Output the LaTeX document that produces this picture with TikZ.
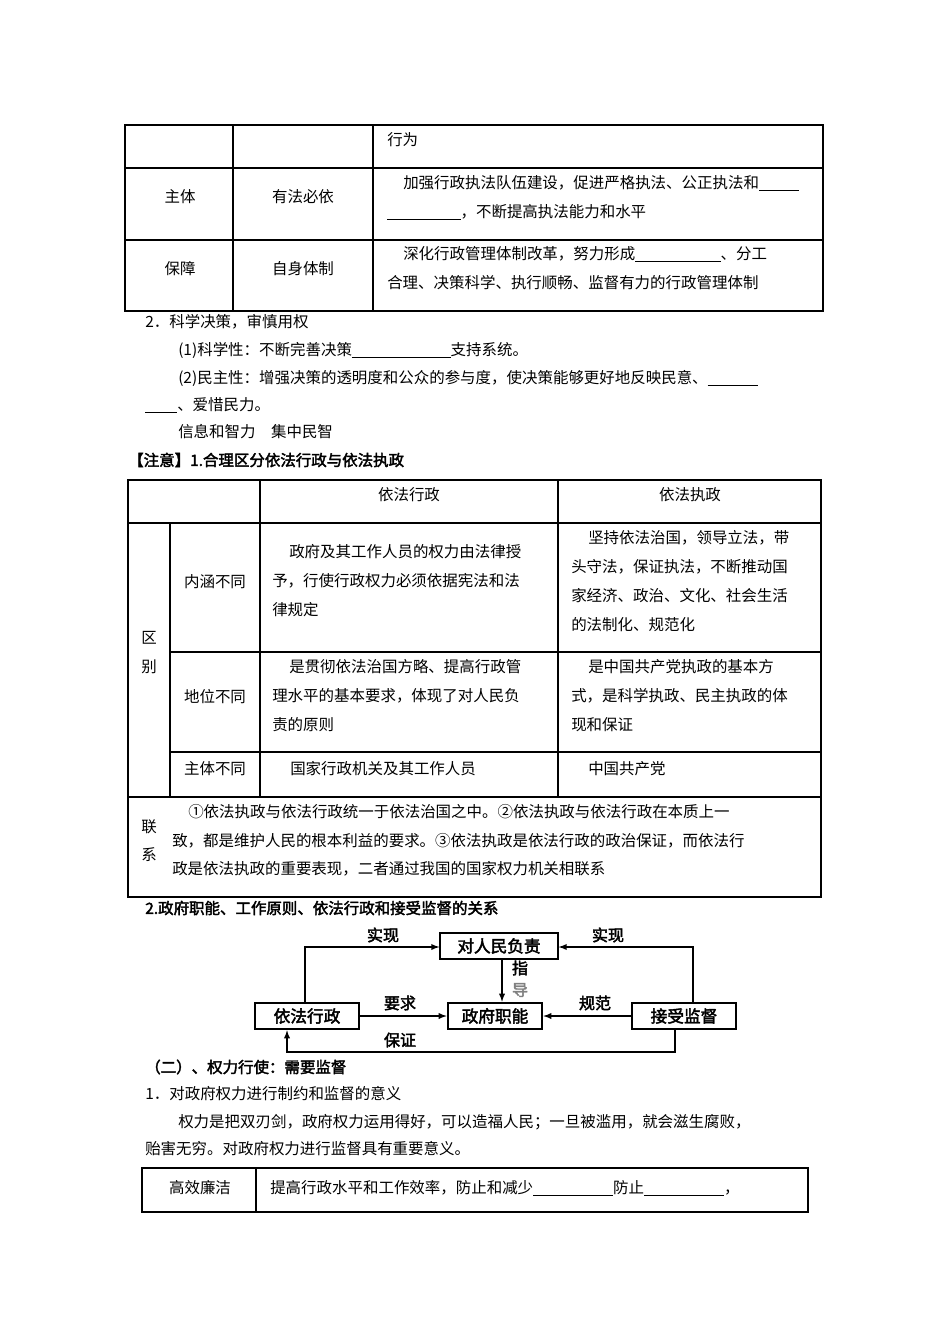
\documentclass[tikz,border=0pt]{standalone}
\usepackage{fontspec}
\setmainfont{Noto Sans CJK SC}[AutoFakeBold=2.5]
\newcommand{\bl}[1]{\rule[-2pt]{#1pt}{0.5pt}}
\begin{document}
\begin{tikzpicture}[x=0.75pt,y=-0.75pt,font=\fontsize{11.6pt}{13pt}\selectfont,
 tx/.style={anchor=west,inner sep=0pt},
 cc/.style={inner sep=0pt},
 bx/.style={draw,line width=1.4pt,minimum height=20pt,inner sep=2pt,font=\fontsize{12.5pt}{13pt}\selectfont\bfseries},
 ln/.style={line width=1.1pt},
 ar/.style={ln,-latex},
 lb/.style={inner sep=0pt,font=\fontsize{12pt}{13pt}\selectfont\bfseries},
 tb/.style={line width=0.8pt}]
\useasboundingbox (0,0) rectangle (950,1344);
% table 1
\draw[tb] (125,125) rectangle (823,311);
\draw[tb] (125,168)--(823,168) (125,240)--(823,240) (233,125)--(233,311) (373,125)--(373,311);
\node[tx] (t1a) at (387,140) {行为};
\node[cc] (t1b) at (180,197) {主体};
\node[cc] (t1c) at (303,197) {有法必依};
\node[tx] (t1d) at (403,183) {加强行政执法队伍建设，促进严格执法、公正执法和\bl{30}};
\node[tx] (t1e) at (387,212) {\bl{55}，不断提高执法能力和水平};
\node[cc] (t1f) at (180,269) {保障};
\node[cc] (t1g) at (303,269) {自身体制};
\node[tx] (t1h) at (403,254) {深化行政管理体制改革，努力形成\bl{64}、分工};
\node[tx] (t1i) at (387,283) {合理、决策科学、执行顺畅、监督有力的行政管理体制};
% text
\node[tx] (p1) at (145,322) {2．科学决策，审慎用权};
\node[tx] (p2) at (178,350) {(1)科学性：不断完善决策\bl{74}支持系统。};
\node[tx] (p3) at (178,378) {(2)民主性：增强决策的透明度和公众的参与度，使决策能够更好地反映民意、\bl{38}};
\node[tx] (p4) at (145,405) {\bl{24}、爱惜民力。};
\node[tx] (p5) at (178,432) {信息和智力\quad 集中民智};
\node[tx,font=\fontsize{11.6pt}{13pt}\selectfont\bfseries] (p6) at (128,460) {【注意】1.合理区分依法行政与依法执政};
% table 2
\draw[tb] (128,480) rectangle (821,897);
\draw[tb] (128,523)--(821,523) (170,652)--(821,652) (170,752)--(821,752) (128,797)--(821,797);
\draw[tb] (170,523)--(170,797) (260,480)--(260,797) (558,480)--(558,797);
\node[cc] (h1) at (409,495) {依法行政};
\node[cc] (h2) at (690,495) {依法执政};
\node[cc] (q1) at (149,638) {区};
\node[cc] (q2) at (149,667) {别};
\node[cc] (r1) at (215,582) {内涵不同};
\node[tx] (r1a) at (289,552) {政府及其工作人员的权力由法律授};
\node[tx] (r1b) at (272,581) {予，行使行政权力必须依据宪法和法};
\node[tx] (r1c) at (272,610) {律规定};
\node[tx] (r1d) at (588,538) {坚持依法治国，领导立法，带};
\node[tx] (r1e) at (571,567) {头守法，保证执法，不断推动国};
\node[tx] (r1f) at (571,596) {家经济、政治、文化、社会生活};
\node[tx] (r1g) at (571,625) {的法制化、规范化};
\node[cc] (r2) at (215,697) {地位不同};
\node[tx] (r2a) at (289,667) {是贯彻依法治国方略、提高行政管};
\node[tx] (r2b) at (272,696) {理水平的基本要求，体现了对人民负};
\node[tx] (r2c) at (272,725) {责的原则};
\node[tx] (r2d) at (588,667) {是中国共产党执政的基本方};
\node[tx] (r2e) at (571,696) {式，是科学执政、民主执政的体};
\node[tx] (r2f) at (571,725) {现和保证};
\node[cc] (r3) at (215,769) {主体不同};
\node[tx] (r3a) at (290,769) {国家行政机关及其工作人员};
\node[tx] (r3b) at (588,769) {中国共产党};
\node[cc] (l1) at (149,827) {联};
\node[cc] (l2) at (149,855) {系};
\node[tx] (l3) at (188,812) {①依法执政与依法行政统一于依法治国之中。②依法执政与依法行政在本质上一};
\node[tx] (l4) at (172,841) {致，都是维护人民的根本利益的要求。③依法执政是依法行政的政治保证，而依法行};
\node[tx] (l5) at (172,869) {政是依法执政的重要表现，二者通过我国的国家权力机关相联系};
\node[tx,font=\fontsize{11.6pt}{13pt}\selectfont\bfseries] (p7) at (145,908) {2.政府职能、工作原则、依法行政和接受监督的关系};
% diagram
\node[bx,minimum width=88pt] (dr) at (499,946) {对人民负责};
\node[bx,minimum width=78pt] (yf) at (307,1016) {依法行政};
\node[bx,minimum width=71pt] (zf) at (495,1016) {政府职能};
\node[bx,minimum width=78pt] (js) at (684,1016) {接受监督};
\coordinate (c1) at (305,947);
\coordinate (c2) at (693,947);
\coordinate (c3) at (675,1052);
\coordinate (c4) at (287,1052);
\draw[ar] (yf.north -| c1) -- (c1) -- (dr.west |- c1);
\draw[ar] (js.north -| c2) -- (c2) -- (dr.east |- c2);
\draw[ar] (dr.south -| 502,0) -- (zf.north -| 502,0);
\draw[ar] (yf.east) -- (zf.west);
\draw[ar] (js.west) -- (zf.east);
\draw[ar] (js.south -| c3) -- (c3) -- (c4) -- (yf.south -| c4);
\node[lb] (s1) at (383,935) {实现};
\node[lb] (s2) at (608,935) {实现};
\node[lb] (s3) at (520,968) {指};
\node[lb,text=gray] (s4) at (520,990) {导};
\node[lb] (s5) at (400,1003) {要求};
\node[lb] (s6) at (595,1003) {规范};
\node[lb] (s7) at (400,1040) {保证};
% bottom text
\node[tx,font=\fontsize{11.6pt}{13pt}\selectfont\bfseries] (p8) at (145,1067) {（二）、权力行使：需要监督};
\node[tx] (p9) at (145,1094) {1．对政府权力进行制约和监督的意义};
\node[tx] (p10) at (178,1122) {权力是把双刃剑，政府权力运用得好，可以造福人民；一旦被滥用，就会滋生腐败，};
\node[tx] (p11) at (145,1149) {贻害无穷。对政府权力进行监督具有重要意义。};
\draw[tb] (142,1168) rectangle (808,1212) (256,1168)--(256,1212);
\node[cc] (g1) at (200,1188) {高效廉洁};
\node[tx] (g2) at (270,1188) {提高行政水平和工作效率，防止和减少\bl{60}防止\bl{60}，};
\end{tikzpicture}
\end{document}
